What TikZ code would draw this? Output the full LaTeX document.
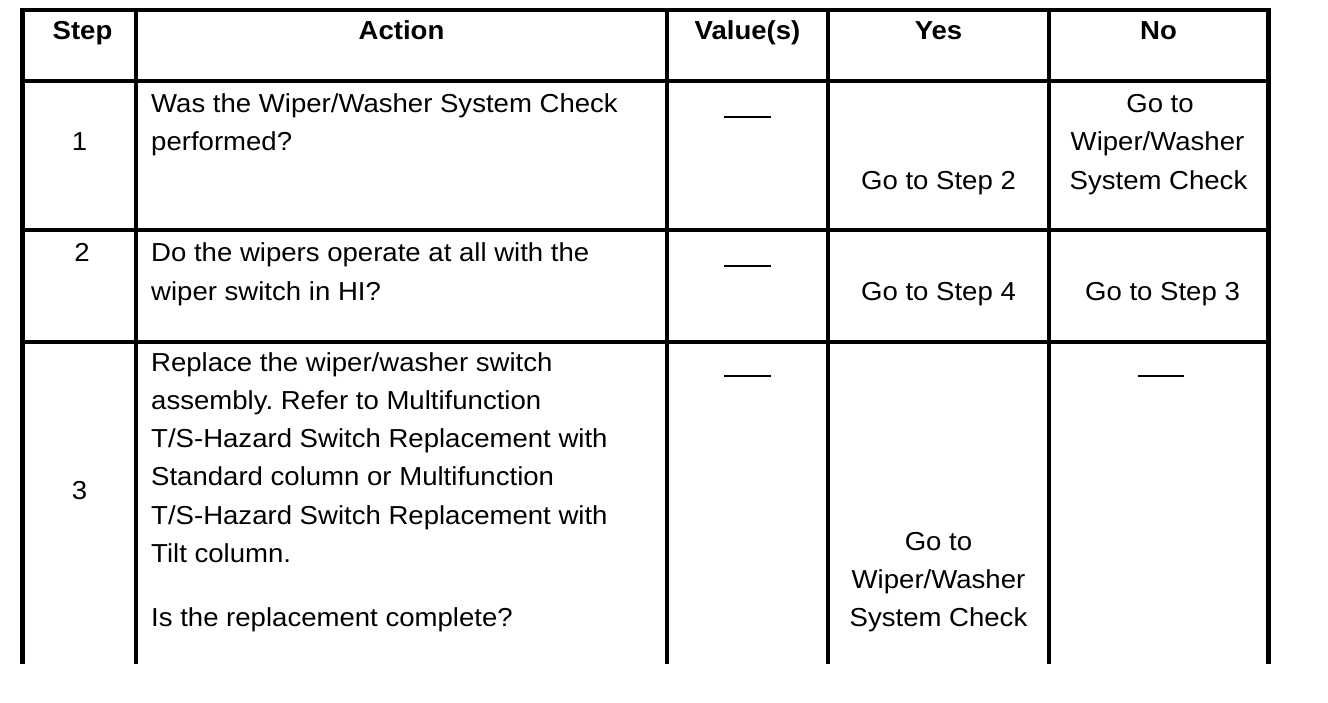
\documentclass[tikz,border=0pt]{standalone}
\usepackage{fontspec}
\setmainfont{Liberation Sans}[FakeStretch = 1.06]
\usepackage{tikz}
\frenchspacing

\begin{document}
\begin{tikzpicture}[x = 1pt, y = -1pt,
    rule/.style = {line width = 3.5pt},
    dashmark/.style = {line width = 2pt},
    cell/.style = {inner sep = 0pt, anchor = base, font = \fontsize{26}{38.3}\selectfont},
    headcell/.style = {cell, font = \fontsize{26}{38.3}\selectfont\bfseries}]
    \useasboundingbox (0, 0) rectangle (1328, 702);

    \draw [rule] (20.25, 10) -- (1270.5, 10);
    \draw [rule] (20.25, 81) -- (1270.5, 81);
    \draw [rule] (20.25, 230) -- (1270.5, 230);
    \draw [rule] (20.25, 342) -- (1270.5, 342);
    \draw [rule, line width = 4.5pt] (22.5, 8.25) -- (22.5, 664);
    \draw [rule] (136, 8.25) -- (136, 664);
    \draw [rule] (667, 8.25) -- (667, 664);
    \draw [rule] (828, 8.25) -- (828, 664);
    \draw [rule] (1049, 8.25) -- (1049, 664);
    \draw [rule, line width = 5pt] (1268, 8.25) -- (1268, 664);

    \node [headcell] (hstep) at (82.5, 39) {Step};
    \node [headcell] (haction) at (401.5, 39) {Action};
    \node [headcell] (hvalue) at (747.5, 39) {Value(s)};
    \node [headcell] (hyes) at (938.5, 39) {Yes};
    \node [headcell] (hno) at (1158.5, 39) {No};

    \node [cell] (step1) at (79.5, 150) {1};
    \node [cell, anchor = base west] (act1a) at (151, 112) {Was the Wiper/Washer System Check};
    \node [cell, anchor = base west] (act1b) at (151, 150) {performed?};
    \draw [dashmark] (724, 117) -- (771, 117);
    \node [cell] (yes1) at (938.5, 189) {Go to Step 2};
    \node [cell] (no1a) at (1160, 112) {Go to};
    \node [cell] (no1b) at (1157.5, 150) {Wiper/Washer};
    \node [cell] (no1c) at (1158.5, 189) {System Check};

    \node [cell] (step2) at (82, 261) {2};
    \node [cell, anchor = base west] (act2a) at (151, 261) {Do the wipers operate at all with the};
    \node [cell, anchor = base west] (act2b) at (151, 300) {wiper switch in HI?};
    \draw [dashmark] (724, 266) -- (771, 266);
    \node [cell] (yes2) at (938.5, 300) {Go to Step 4};
    \node [cell] (no2) at (1162.5, 300) {Go to Step 3};

    \node [cell] (step3) at (79.5, 499) {3};
    \foreach \txt [count = \i from 0] in {Replace the wiper/washer switch, assembly. Refer to Multifunction,
        T/S-Hazard Switch Replacement with, Standard column or Multifunction,
        T/S-Hazard Switch Replacement with, Tilt column.}
        \node [cell, anchor = base west] (act3-\i) at (151, {371 + 38.3 * \i}) {\txt};
    \node [cell, anchor = base west] (act3q) at (151, 626) {Is the replacement complete?};
    \draw [dashmark] (724, 376) -- (771, 376);
    \node [cell] (yes3a) at (938.5, 550) {Go to};
    \node [cell] (yes3b) at (938.5, 588) {Wiper/Washer};
    \node [cell] (yes3c) at (938.5, 626) {System Check};
    \draw [dashmark] (1138, 376) -- (1184, 376);
\end{tikzpicture}
\end{document}
